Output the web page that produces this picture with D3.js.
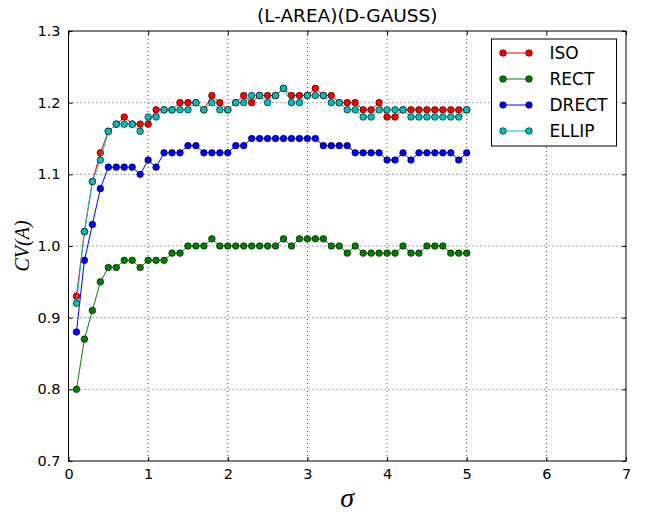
<!DOCTYPE html>
<html>
<head>
<meta charset="utf-8">
<script src="https://cdn.jsdelivr.net/npm/d3@7"></script>
<style>
  body { margin: 0; background: #fff; }
  text { font-family: "DejaVu Sans", sans-serif; }
</style>
</head>
<body>
<div id="chart"></div>
<script>
// sigma values 0.1 .. 5.0
let sigma = [0.1,0.2,0.3,0.4,0.5,0.6,0.7,0.8,0.9,1.0,
  1.1,1.2,1.3,1.4,1.5,1.6,1.7,1.8,1.9,2.0,
  2.1,2.2,2.3,2.4,2.5,2.6,2.7,2.8,2.9,3.0,
  3.1,3.2,3.3,3.4,3.5,3.6,3.7,3.8,3.9,4.0,
  4.1,4.2,4.3,4.4,4.5,4.6,4.7,4.8,4.9,5.0]

let iso = [0.93,1.02,1.09,1.13,1.16,1.17,1.18,1.17,1.17,1.17,
  1.19,1.19,1.19,1.20,1.20,1.20,1.19,1.21,1.20,1.19,
  1.20,1.21,1.20,1.21,1.21,1.21,1.22,1.21,1.21,1.21,
  1.22,1.21,1.21,1.20,1.20,1.20,1.19,1.19,1.20,1.18,
  1.18,1.19,1.19,1.19,1.19,1.19,1.19,1.19,1.19,1.19]

let rect = [0.80,0.87,0.91,0.95,0.97,0.97,0.98,0.98,0.97,0.98,
  0.98,0.98,0.99,0.99,1.00,1.00,1.00,1.01,1.00,1.00,
  1.00,1.00,1.00,1.00,1.00,1.00,1.01,1.00,1.01,1.01,
  1.01,1.01,1.00,1.00,0.99,1.00,0.99,0.99,0.99,0.99,
  0.99,1.00,0.99,0.99,1.00,1.00,1.00,0.99,0.99,0.99]

let drect = [0.88,0.98,1.03,1.08,1.11,1.11,1.11,1.11,1.10,1.12,
  1.11,1.13,1.13,1.13,1.14,1.14,1.13,1.13,1.13,1.13,
  1.14,1.14,1.15,1.15,1.15,1.15,1.15,1.15,1.15,1.15,
  1.15,1.14,1.14,1.14,1.14,1.13,1.13,1.13,1.13,1.12,
  1.12,1.13,1.12,1.13,1.13,1.13,1.13,1.13,1.12,1.13]

let ellip = [0.92,1.02,1.09,1.12,1.16,1.17,1.17,1.17,1.16,1.18,
  1.18,1.19,1.19,1.19,1.19,1.20,1.19,1.20,1.19,1.19,
  1.20,1.20,1.21,1.21,1.20,1.21,1.22,1.20,1.20,1.21,
  1.21,1.21,1.20,1.20,1.19,1.19,1.18,1.18,1.19,1.19,
  1.19,1.19,1.18,1.18,1.18,1.18,1.18,1.18,1.18,1.19]

let seriesNames = ['ISO', 'RECT', 'DRECT', 'ELLIP']
let seriesValues = [iso, rect, drect, ellip]
let seriesColors = ['#ff0000', '#008000', '#0000ff', '#00bfbf']

let xTicks = [0, 1, 2, 3, 4, 5, 6, 7]
let yTicks = [0.7, 0.8, 0.9, 1.0, 1.1, 1.2, 1.3]

var margin = { top: 31, right: 23, bottom: 51, left: 68.5 }
var width = 649 - margin.left - margin.right
var height = 512 - margin.top - margin.bottom

var x = d3.scaleLinear().domain([0, 7]).range([0, width])
var y = d3.scaleLinear().domain([0.7, 1.3]).range([height, 0])

var svg = d3.select('#chart').append('svg')
  .attr('width', 649)
  .attr('height', 512)
  .append('g')
  .attr('transform', 'translate(' + margin.left + ',' + margin.top + ')')

// grid
svg.append('g').selectAll('line.gx')
  .data(xTicks.slice(1, -1))
  .enter().append('line')
  .attr('x1', d => x(d)).attr('x2', d => x(d))
  .attr('y1', 0).attr('y2', height)
  .attr('stroke', '#000').attr('stroke-width', 0.7)
  .attr('stroke-dasharray', '1,3')

svg.append('g').selectAll('line.gy')
  .data(yTicks.slice(1, -1))
  .enter().append('line')
  .attr('x1', 0).attr('x2', width)
  .attr('y1', d => y(d)).attr('y2', d => y(d))
  .attr('stroke', '#000').attr('stroke-width', 0.7)
  .attr('stroke-dasharray', '1,3')

// axes, ticks inside on all sides
var xAxis = svg.append('g')
  .attr('transform', 'translate(0,' + height + ')')
  .call(d3.axisBottom(x).tickValues(xTicks).tickSizeInner(-4).tickSizeOuter(0).tickPadding(8)
    .tickFormat(d3.format('d')))
var xTop = svg.append('g')
  .call(d3.axisTop(x).tickValues(xTicks).tickSizeInner(-4).tickSizeOuter(0).tickFormat(''))
var yAxis = svg.append('g')
  .call(d3.axisLeft(y).tickValues(yTicks).tickSizeInner(-4).tickSizeOuter(0).tickPadding(8)
    .tickFormat(d3.format('.1f')))
var yRight = svg.append('g')
  .attr('transform', 'translate(' + width + ',0)')
  .call(d3.axisRight(y).tickValues(yTicks).tickSizeInner(-4).tickSizeOuter(0).tickFormat(''))

;[xAxis, xTop, yAxis, yRight].forEach(a => {
  a.select('.domain').remove()
  a.selectAll('line').attr('stroke', '#000')
  a.selectAll('text').attr('font-size', 14.5).attr('fill', '#000')
    .style('font-family', '"DejaVu Sans", sans-serif')
})

svg.append('rect')
  .attr('width', width).attr('height', height)
  .attr('fill', 'none').attr('stroke', '#000').attr('stroke-width', 1)

// series
seriesValues.forEach((vals, i) => {
  let pts = sigma.map((s, j) => [s, vals[j]])
  svg.append('path')
    .datum(pts)
    .attr('fill', 'none')
    .attr('stroke', seriesColors[i])
    .attr('stroke-width', 1)
    .attr('d', d3.line().x(d => x(d[0])).y(d => y(d[1])))
  svg.append('g').selectAll('circle')
    .data(pts)
    .enter().append('circle')
    .attr('cx', d => x(d[0]))
    .attr('cy', d => y(d[1]))
    .attr('r', 3.3)
    .attr('fill', seriesColors[i])
    .attr('stroke', '#000')
    .attr('stroke-width', 0.6)
})

// legend
var lg = svg.append('g').attr('transform', 'translate(' + (491.5 - margin.left) + ',' + (39 - margin.top) + ')')
lg.append('rect')
  .attr('width', 125).attr('height', 107)
  .attr('fill', '#fff').attr('stroke', '#000').attr('stroke-width', 1)
seriesNames.forEach((name, i) => {
  let yy = 14 + i * 26
  lg.append('line')
    .attr('x1', 11.5).attr('x2', 37.5).attr('y1', yy).attr('y2', yy)
    .attr('stroke', seriesColors[i]).attr('stroke-width', 1)
  ;[11.5, 37.5].forEach(cx => {
    lg.append('circle').attr('cx', cx).attr('cy', yy).attr('r', 3.3)
      .attr('fill', seriesColors[i]).attr('stroke', '#000').attr('stroke-width', 0.6)
  })
  lg.append('text')
    .attr('x', 58).attr('y', yy + 6)
    .attr('font-size', 17)
    .text(name)
})

// title and labels
svg.append('text')
  .attr('x', width / 2).attr('y', -9)
  .attr('text-anchor', 'middle')
  .attr('font-size', 18.5)
  .text('(L-AREA)(D-GAUSS)')

svg.append('text')
  .attr('x', width / 2).attr('y', height + 46)
  .attr('text-anchor', 'middle')
  .style('font-family', '"Liberation Serif", serif')
  .style('font-style', 'italic')
  .attr('font-size', 28)
  .text('σ')

svg.append('text')
  .attr('transform', 'translate(' + (29 - margin.left) + ',' + (height / 2) + ') rotate(-90)')
  .attr('text-anchor', 'middle')
  .style('font-family', '"Liberation Serif", serif')
  .style('font-style', 'italic')
  .attr('font-size', 20)
  .text('CV(A)')
</script>
</body>
</html>
